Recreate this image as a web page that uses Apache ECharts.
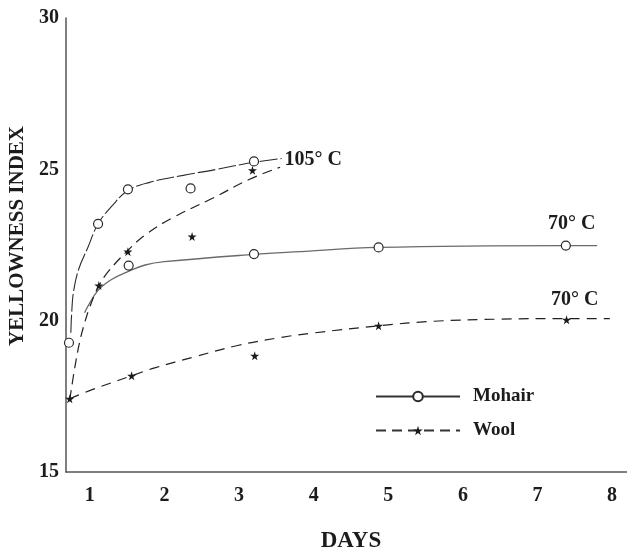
<!DOCTYPE html>
<html>
<head>
<meta charset="utf-8">
<script src="https://cdn.jsdelivr.net/npm/echarts@6/dist/echarts.min.js"></script>
<style>
  html, body { margin: 0; padding: 0; background: #fff; }
  #chart { width: 627px; height: 555px; }
</style>
</head>
<body>
<div id="chart"></div>
<script>
// Measured points (days, yellowness index)
const mohair105Days = [0.72, 1.11, 1.51, 2.35, 3.2];
const mohair105Vals = [19.27, 23.2, 24.34, 24.37, 25.26];
const mohair70Days = [1.52, 3.2, 4.87, 7.38];
const mohair70Vals = [21.82, 22.2, 22.42, 22.48];
const wool105Days = [0.73, 1.12, 1.51, 2.37, 3.18];
const wool105Vals = [17.42, 21.16, 22.28, 22.78, 24.97];
const wool70Days = [1.56, 3.21, 4.87, 7.39];
const wool70Vals = [18.18, 18.84, 19.83, 20.03];

// Hand-fitted trend curves (days, index)
const mohair105CurveDays = [0.745, 0.755, 0.78, 0.85, 0.97, 1.11, 1.3, 1.51, 1.8, 2.25, 2.7, 3.05, 3.2, 3.57];
const mohair105CurveVals = [19.6, 20.2, 20.95, 21.7, 22.4, 23.2, 23.8, 24.3, 24.57, 24.8, 25.0, 25.17, 25.23, 25.36];
const mohair70CurveDays = [0.93, 0.97, 1.11, 1.29, 1.51, 1.74, 2.0, 3.2, 3.82, 4.87, 7.38, 7.8];
const mohair70CurveVals = [20.26, 20.46, 21.0, 21.36, 21.62, 21.84, 21.95, 22.19, 22.28, 22.42, 22.48, 22.48];
const wool105CurveDays = [0.73, 0.8, 0.87, 0.93, 1.0, 1.11, 1.24, 1.5, 1.75, 2.11, 2.65, 3.14, 3.55];
const wool105CurveVals = [17.38, 18.48, 19.37, 19.93, 20.46, 21.1, 21.6, 22.3, 22.85, 23.4, 24.05, 24.67, 25.07];
const wool70CurveDays = [0.73, 1.03, 1.56, 1.87, 2.41, 2.98, 3.57, 4.02, 4.87, 5.6, 6.5, 7.39, 7.97];
const wool70CurveVals = [17.42, 17.72, 18.18, 18.44, 18.81, 19.18, 19.45, 19.6, 19.83, 19.98, 20.05, 20.07, 20.07];

// Curve labels
const curveLabels = ['105° C', '70° C', '70° C'];
const curveLabelDays = [3.61, 7.14, 7.18];
const curveLabelVals = [25.33, 23.21, 20.7];

const xTicks = [1, 2, 3, 4, 5, 6, 7, 8];
const yTicks = [15, 20, 25, 30];

const pair = (xs, ys) => xs.map((x, i) => [x, ys[i]]);
const SERIF = '"Liberation Serif", "DejaVu Serif", serif';
const INK = '#1c1c1c';
const STAR = 'path://M50,0 L61,35 L98,35 L68,57 L79,91 L50,70 L21,91 L32,57 L2,35 L39,35 Z';

const circleStyle = { color: '#fff', borderColor: '#2a2a2a', borderWidth: 1.2, opacity: 1 };
const starStyle = { color: '#1a1a1a', opacity: 1 };

const chart = echarts.init(document.getElementById('chart'), null, { renderer: 'canvas' });
chart.setOption({
  animation: false,
  backgroundColor: '#fff',
  grid: { left: 66, right: 0, top: 18, bottom: 83 },
  xAxis: {
    type: 'value', min: 0.68, max: 8.2,
    axisLine: { lineStyle: { color: '#555', width: 1.5 } },
    axisTick: { show: false },
    splitLine: { show: false },
    axisLabel: {
      customValues: xTicks, margin: 14,
      fontFamily: SERIF, fontWeight: 'bold', fontSize: 20, color: INK
    }
  },
  yAxis: {
    type: 'value', min: 15, max: 30, interval: 5,
    axisLine: { show: true, lineStyle: { color: '#555', width: 1.5 } },
    axisTick: { show: false },
    splitLine: { show: false },
    axisLabel: {
      customValues: yTicks, margin: 7,
      fontFamily: SERIF, fontWeight: 'bold', fontSize: 20, color: INK
    }
  },
  legend: {
    left: 370, top: 382, orient: 'vertical',
    itemWidth: 84, itemHeight: 12, itemGap: 15,
    data: ['Mohair', 'Wool'],
    textStyle: { fontFamily: SERIF, fontWeight: 'bold', fontSize: 19, color: INK, padding: [0, 0, 0, 8] }
  },
  graphic: [
    { type: 'text', x: 18, y: 236, rotation: Math.PI / 2,
      style: { text: 'YELLOWNESS INDEX', font: 'bold 21px ' + SERIF, fill: INK, align: 'center', verticalAlign: 'middle' } },
    { type: 'text', x: 351, y: 541,
      style: { text: 'DAYS', font: 'bold 23px ' + SERIF, fill: INK, align: 'center', verticalAlign: 'middle' } }
  ],
  series: [
    // legend entries
    { name: 'Mohair', type: 'line', data: [], symbol: 'circle', symbolSize: 8,
      itemStyle: circleStyle, lineStyle: { color: '#333', width: 1.2 } },
    { name: 'Wool', type: 'line', data: [], symbol: STAR, symbolSize: 8,
      itemStyle: starStyle, lineStyle: { color: '#333', width: 1.2, type: [10, 6] } },
    // trend curves
    { type: 'line', data: pair(mohair105CurveDays, mohair105CurveVals), smooth: 0.4, showSymbol: false, silent: true,
      lineStyle: { color: '#2a2a2a', width: 1.1, type: [18, 3] } },
    { type: 'line', data: pair(mohair70CurveDays, mohair70CurveVals), smooth: 0.4, showSymbol: false, silent: true,
      lineStyle: { color: '#6a6a6a', width: 1.4 } },
    { type: 'line', data: pair(wool105CurveDays, wool105CurveVals), smooth: 0.4, showSymbol: false, silent: true,
      lineStyle: { color: '#222', width: 1.2, type: [10, 6] } },
    { type: 'line', data: pair(wool70CurveDays, wool70CurveVals), smooth: 0.4, showSymbol: false, silent: true,
      lineStyle: { color: '#222', width: 1.2, type: [10, 7] } },
    // measured points
    { type: 'scatter', data: pair(mohair105Days, mohair105Vals), symbol: 'circle', symbolSize: 9, itemStyle: circleStyle, z: 5 },
    { type: 'scatter', data: pair(mohair70Days, mohair70Vals), symbol: 'circle', symbolSize: 9, itemStyle: circleStyle, z: 5 },
    { type: 'scatter', data: pair(wool105Days, wool105Vals), symbol: STAR, symbolSize: 9, itemStyle: starStyle, z: 5 },
    { type: 'scatter', data: pair(wool70Days, wool70Vals), symbol: STAR, symbolSize: 9, itemStyle: starStyle, z: 5 },
    // curve labels
    { type: 'scatter', symbolSize: 0, silent: true, z: 6, itemStyle: { opacity: 1 },
      data: curveLabels.map((t, i) => ({ name: t, value: [curveLabelDays[i], curveLabelVals[i]] })),
      label: { show: true, position: 'right', distance: 0, formatter: '{b}', opacity: 1,
        fontFamily: SERIF, fontWeight: 'bold', fontSize: 20, color: INK } }
  ]
});
</script>
</body>
</html>
